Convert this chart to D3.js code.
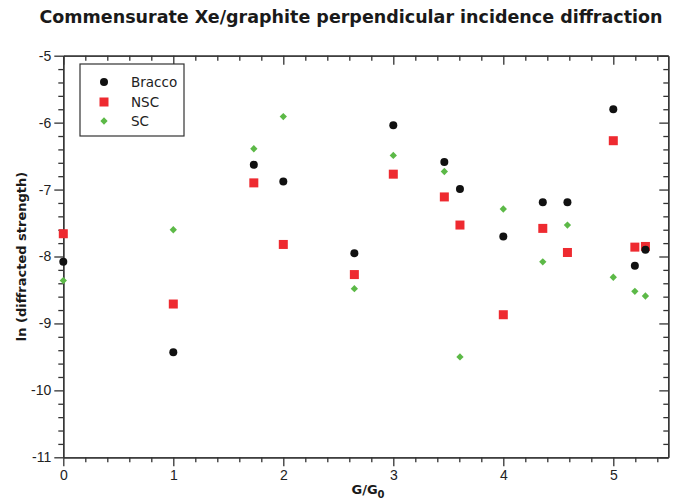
<!DOCTYPE html>
<html>
<head>
<meta charset="utf-8">
<script src="https://cdn.jsdelivr.net/npm/d3@7/dist/d3.min.js"></script>
<style>
  body { margin: 0; background: #fff; }
  svg { font-family: "DejaVu Sans", Verdana, sans-serif; }
</style>
</head>
<body>
<svg id="chart" width="674" height="500"></svg>
<script>
// G/G0 positions
var gRatio = [0, 1, 1.732, 2, 2.646, 3, 3.464, 3.606, 4, 4.359, 4.583, 5, 5.196, 5.292];
var bracco = [-8.08, -9.43, -6.63, -6.88, -7.95, -6.04, -6.59, -6.99, -7.70, -7.19, -7.19, -5.80, -8.14, -7.90];
var nsc = [-7.66, -8.71, -6.90, -7.82, -8.27, -6.77, -7.11, -7.53, -8.87, -7.58, -7.94, -6.27, -7.86, -7.85];
var sc = [-8.36, -7.60, -6.39, -5.91, -8.48, -6.49, -6.73, -9.50, -7.29, -8.08, -7.53, -8.31, -8.52, -8.59];
var seriesNames = ['Bracco', 'NSC', 'SC'];
var xTicks = [0, 1, 2, 3, 4, 5];
var yTicks = [-11, -10, -9, -8, -7, -6, -5];

var svg = d3.select('#chart');
var plotLeft = 63.3, plotRight = 668.3, plotTop = 55.7, plotBottom = 457.3;

var x = d3.scaleLinear().domain([0, 5.5]).range([plotLeft, plotRight]);
var y = d3.scaleLinear().domain([-11, -5]).range([plotBottom, plotTop]);

var xMinor = d3.range(0, 5.5001, 0.2).filter(function(v) { return Math.abs(v - Math.round(v)) > 1e-6; });
var yMinor = d3.range(-11, -4.999, 0.2).filter(function(v) { return Math.abs(v - Math.round(v)) > 1e-6; });

var axisColor = '#333';

function styleAxis(g) {
  g.selectAll('path').attr('stroke', axisColor).attr('stroke-width', 1.3);
  g.selectAll('line').attr('stroke', axisColor).attr('stroke-width', 1.3);
  g.selectAll('text').attr('fill', '#222').style('font-size', '14px');
}

// bottom
svg.append('g').attr('transform', 'translate(0,' + plotBottom + ')')
  .call(d3.axisBottom(x).tickValues(xMinor).tickSize(5).tickFormat('').tickSizeOuter(0))
  .call(styleAxis);
svg.append('g').attr('transform', 'translate(0,' + plotBottom + ')')
  .call(d3.axisBottom(x).tickValues(xTicks).tickSize(9).tickPadding(4).tickSizeOuter(0).tickFormat(d3.format('d')))
  .call(styleAxis);
// top
svg.append('g').attr('transform', 'translate(0,' + plotTop + ')')
  .call(d3.axisTop(x).tickValues(xMinor).tickSize(-5).tickFormat('').tickSizeOuter(0))
  .call(styleAxis);
svg.append('g').attr('transform', 'translate(0,' + plotTop + ')')
  .call(d3.axisTop(x).tickValues(xTicks).tickSize(-9).tickFormat('').tickSizeOuter(0))
  .call(styleAxis);
// left
svg.append('g').attr('transform', 'translate(' + plotLeft + ',0)')
  .call(d3.axisLeft(y).tickValues(yMinor).tickSize(5).tickFormat('').tickSizeOuter(0))
  .call(styleAxis);
svg.append('g').attr('transform', 'translate(' + plotLeft + ',0)')
  .call(d3.axisLeft(y).tickValues(yTicks).tickSize(9).tickPadding(3).tickSizeOuter(0).tickFormat(d3.format('d')))
  .call(styleAxis);
// right
svg.append('g').attr('transform', 'translate(' + plotRight + ',0)')
  .call(d3.axisRight(y).tickValues(yMinor).tickSize(-5).tickFormat('').tickSizeOuter(0))
  .call(styleAxis);
svg.append('g').attr('transform', 'translate(' + plotRight + ',0)')
  .call(d3.axisRight(y).tickValues(yTicks).tickSize(-9).tickFormat('').tickSizeOuter(0))
  .call(styleAxis);

// plain hyphen for negatives, like the reference
svg.selectAll('.tick text').text(function() { return this.textContent.replace('\u2212', '-'); });

// data marks
var plot = svg.append('g');
function pts(vals) {
  return gRatio.map(function(g, i) { return { g: g, v: vals[i] }; });
}

plot.selectAll('.sc').data(pts(sc)).enter().append('path')
  .attr('class', 'sc')
  .attr('d', d3.symbol().type(d3.symbolDiamond2).size(34))
  .attr('transform', function(d) { return 'translate(' + x(d.g) + ',' + y(d.v) + ')'; })
  .attr('fill', '#5cb947');

plot.selectAll('.nsc').data(pts(nsc)).enter().append('rect')
  .attr('class', 'nsc')
  .attr('x', function(d) { return x(d.g) - 4.5; })
  .attr('y', function(d) { return y(d.v) - 4.5; })
  .attr('width', 9).attr('height', 9)
  .attr('fill', '#ee2a30');

plot.selectAll('.bracco').data(pts(bracco)).enter().append('circle')
  .attr('class', 'bracco')
  .attr('cx', function(d) { return x(d.g); })
  .attr('cy', function(d) { return y(d.v); })
  .attr('r', 4)
  .attr('fill', '#111');

// legend
var lg = svg.append('g').attr('transform', 'translate(80,64)');
lg.append('rect').attr('width', 104).attr('height', 72)
  .attr('fill', '#fff').attr('stroke', '#333').attr('stroke-width', 1.2);
var rowY = [18, 38, 57];
lg.append('circle').attr('cx', 24).attr('cy', rowY[0]).attr('r', 4).attr('fill', '#111');
lg.append('rect').attr('x', 19.5).attr('y', rowY[1] - 4.5).attr('width', 9).attr('height', 9).attr('fill', '#ee2a30');
lg.append('path').attr('d', d3.symbol().type(d3.symbolDiamond2).size(34))
  .attr('transform', 'translate(24,' + rowY[2] + ')').attr('fill', '#5cb947');
lg.selectAll('.lt').data(seriesNames).enter().append('text')
  .attr('x', 51).attr('y', function(d, i) { return rowY[i] + 5; })
  .style('font-size', '13.5px').attr('fill', '#222')
  .text(function(d) { return d; });

// title & labels
svg.append('text').attr('x', 351).attr('y', 23).attr('text-anchor', 'middle')
  .style('font-size', '17.5px').style('font-weight', 'bold').attr('fill', '#1a1a1a')
  .text('Commensurate Xe/graphite perpendicular incidence diffraction');

svg.append('text').attr('transform', 'translate(26,' + ((plotTop + plotBottom) / 2) + ') rotate(-90)')
  .attr('text-anchor', 'middle').style('font-size', '13px').style('font-weight', 'bold').attr('fill', '#1a1a1a')
  .text('ln (diffracted strength)');

var xl = svg.append('text').attr('x', 368).attr('y', 494).attr('text-anchor', 'middle')
  .style('font-size', '13px').style('font-weight', 'bold').attr('fill', '#1a1a1a');
xl.append('tspan').text('G/G');
xl.append('tspan').attr('dy', 4).style('font-size', '10px').text('0');
</script>
</body>
</html>
